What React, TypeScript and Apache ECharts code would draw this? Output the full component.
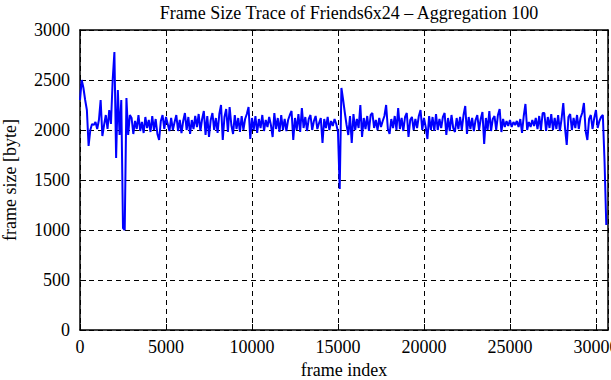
import React, { useEffect, useRef } from "react";
import * as echarts from "echarts";

const TITLE = "Frame Size Trace of Friends6x24 – Aggregation 100";
const X_NAME = "frame index";
const Y_NAME = "frame size [byte]";
const AGGREGATION = 100;

// aggregated frame sizes (one value per 100 frames)
const frameSizes: number[] = [
  2300, 2500, 2420, 2300, 2200, 1840, 2000, 2060, 2050, 2080,
  2010, 2100, 2300, 1940, 2050, 2150, 2010, 2200, 2060, 2500,
  2780, 1720, 2400, 1950, 2300, 1020, 1000, 2320, 1950, 2150,
  2120, 1960, 2090, 2010, 2150, 1990, 2080, 1970, 2130, 2020,
  2100, 1980, 2140, 2000, 2110, 1960, 1900, 2090, 2150, 2010,
  2130, 2060, 1990, 2120, 2000, 2080, 2150, 1990, 2100, 1970,
  2090, 2170, 2000, 2130, 1960, 2100, 2010, 2140, 2030, 2160,
  1990, 2110, 2190, 1950, 2140, 1930, 2100, 2170, 2000, 2120,
  1970, 2160, 2250, 1900, 2130, 2210, 1980, 2230, 2050, 1960,
  2150, 2010, 2120, 1980, 2140, 2000, 2110, 2160, 2230, 1910,
  2120, 2000, 2140, 1970, 2110, 2020, 2150, 1990, 2100, 2030,
  2130, 2050, 1930, 2170, 2010, 2120, 1980, 2150, 2000, 2110,
  1990, 2100, 2150, 2190, 1900, 2120, 2000, 2160, 1980, 2220,
  2020, 2130, 1990, 2110, 2150, 2000, 2090, 2140, 2010, 2070,
  2120, 1870, 2110, 2020, 2130, 2000, 2090, 2040, 2110, 2060,
  1980, 1410, 2420, 2300, 2170, 2050, 1950, 2140, 1870, 2160,
  2000, 2110, 2020, 2250, 1930, 2120, 2010, 2140, 1990, 2150,
  2170, 2020, 2100, 2000, 2120, 2030, 2090, 2140, 2250, 2010,
  1960, 2110, 2020, 2140, 2000, 2220, 2010, 2120, 1990, 2130,
  2170, 1930, 2100, 2130, 2000, 2110, 2020, 2140, 2200, 2000,
  2120, 2030, 1910, 2140, 2000, 2130, 1990, 2160, 2000, 2110,
  2020, 2130, 2170, 1950, 2120, 1990, 2150, 2020, 1980, 2120,
  2010, 2130, 2000, 2150, 2240, 1960, 2130, 2010, 2120, 1990,
  2100, 2150, 2000, 2110, 2180, 1860, 2120, 2000, 2190, 1990,
  2110, 2140, 2000, 2150, 2210, 1980, 2110, 2030, 2090, 2040,
  2100, 2030, 2080, 2050, 2090, 2030, 2110, 1970, 2140, 2260,
  2000, 2080, 2030, 2100, 2040, 2120, 2010, 2140, 2000, 2170,
  2170, 1990, 2130, 2020, 2160, 2000, 2120, 2010, 2150, 1990,
  2110, 2270, 2020, 1850, 2130, 2160, 2000, 2120, 2020, 2150,
  2010, 2120, 2170, 2270, 1990, 1900, 2110, 2150, 2010, 2120,
  2200, 2020, 2090, 2130, 2150, 1680, 1050,
];

const X_MIN = 0;
const X_MAX = 30700;
const X_STEP = 5000;
const Y_MIN = 0;
const Y_MAX = 3000;
const Y_STEP = 500;

const FONT = "Liberation Serif";
const FS = 18;

export default function App() {
  const ref = useRef<HTMLDivElement>(null);
  useEffect(() => {
    if (!ref.current) return;
    const chart = echarts.init(ref.current, undefined, { renderer: "svg" });
    const data = frameSizes.map((v, i) => [i * AGGREGATION, v]);
    const black = "#000";
    const tickStyle = { color: black, width: 1 };
    const labelStyle = { fontFamily: FONT, fontSize: FS, color: black };
    const dashed = { type: [5, 4] as number[], color: black, width: 1 };
    const plain = (v: number) => String(v);
    chart.setOption({
      animation: false,
      backgroundColor: "#fff",
      textStyle: { fontFamily: FONT },
      title: {
        text: TITLE,
        left: 344,
        top: -1,
        textAlign: "center",
        textStyle: { fontFamily: FONT, fontSize: FS, fontWeight: "normal", color: black },
      },
      grid: { left: 80, right: 3, top: 30, bottom: 50, containLabel: false, outerBoundsMode: "none" },
      xAxis: [
        {
          type: "value",
          min: X_MIN,
          max: X_MAX,
          interval: X_STEP,
          position: "bottom",
          name: X_NAME,
          nameLocation: "middle",
          nameGap: 29,
          nameTextStyle: labelStyle,
          axisLine: { show: true, lineStyle: { color: black, width: 1.5 } },
          axisTick: { show: true, inside: true, length: 6, lineStyle: tickStyle },
          axisLabel: {
            fontFamily: FONT,
            fontSize: FS,
            color: black,
            margin: 8,
            showMaxLabel: false,
            formatter: plain,
          },
          splitLine: { show: true, lineStyle: dashed },
        },
        {
          type: "value",
          min: X_MIN,
          max: X_MAX,
          interval: X_STEP,
          position: "top",
          axisLine: { show: true, onZero: false, lineStyle: { color: black, width: 1.5 } },
          axisTick: { show: true, inside: true, length: 6, lineStyle: tickStyle },
          axisLabel: { show: false },
          splitLine: { show: false },
        },
      ],
      yAxis: [
        {
          type: "value",
          min: Y_MIN,
          max: Y_MAX,
          interval: Y_STEP,
          position: "left",
          name: Y_NAME,
          nameLocation: "middle",
          nameGap: 61,
          nameTextStyle: labelStyle,
          axisLine: { show: true, lineStyle: { color: black, width: 1.5 } },
          axisTick: { show: true, inside: true, length: 6, lineStyle: tickStyle },
          axisLabel: {
            fontFamily: FONT,
            fontSize: FS,
            color: black,
            margin: 10,
            formatter: plain,
          },
          splitLine: { show: true, lineStyle: dashed },
        },
        {
          type: "value",
          min: Y_MIN,
          max: Y_MAX,
          interval: Y_STEP,
          position: "right",
          axisLine: { show: true, onZero: false, lineStyle: { color: black, width: 1.5 } },
          axisTick: { show: true, inside: true, length: 6, lineStyle: tickStyle },
          axisLabel: { show: false },
          splitLine: { show: false },
        },
      ],
      series: [
        {
          type: "line",
          xAxisIndex: 0,
          yAxisIndex: 0,
          data,
          showSymbol: false,
          symbol: "none",
          lineStyle: { color: "#0000ff", width: 2 },
          z: 3,
        },
      ],
    });
    return () => chart.dispose();
  }, []);
  return (
    <div
      ref={ref}
      style={{ position: "fixed", left: 0, top: 0, width: 611, height: 380, background: "#fff" }}
    />
  );
}
